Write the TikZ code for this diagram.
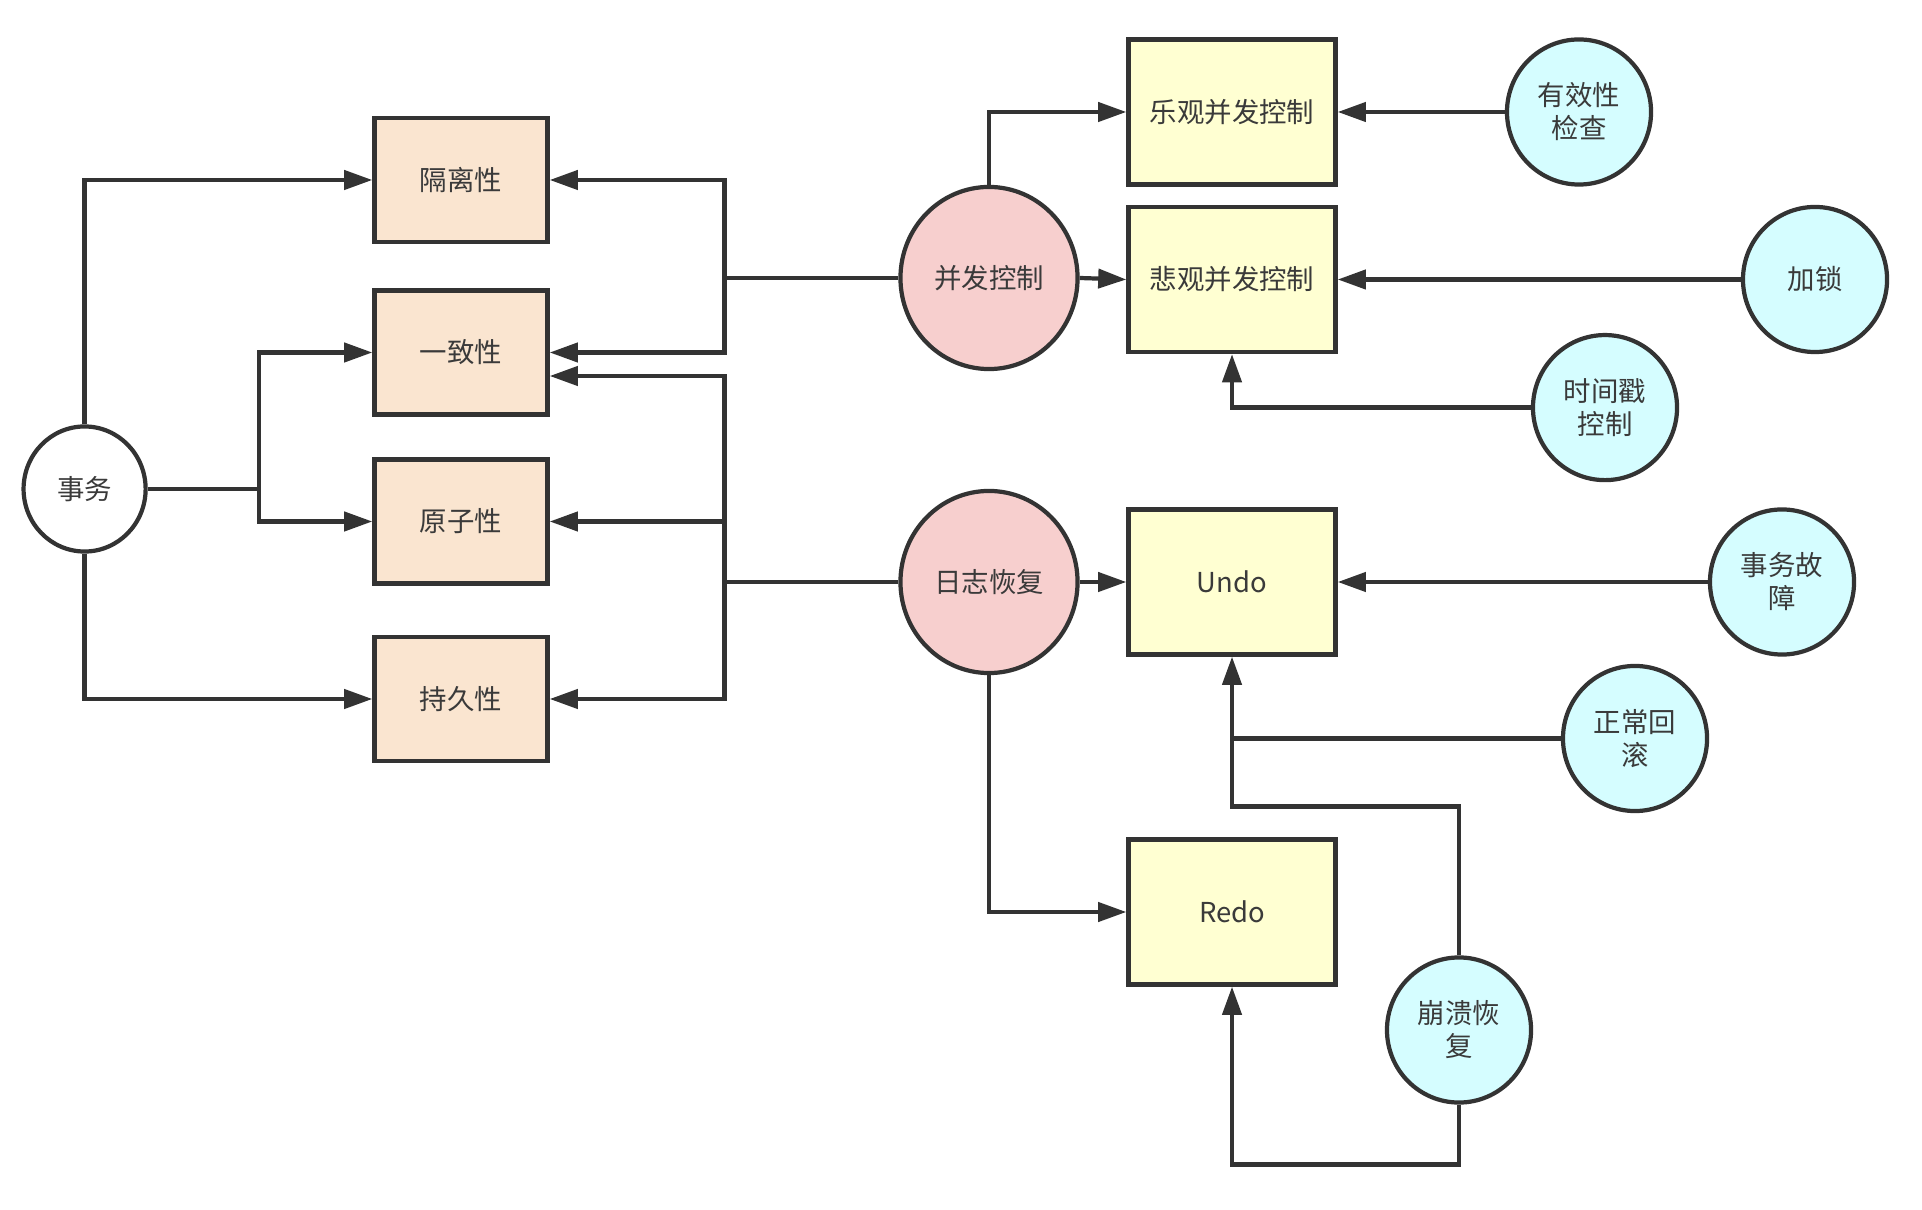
\documentclass[tikz,border=0pt]{standalone}
\usepackage{fontspec}
\setmainfont{Noto Sans CJK SC}
\usetikzlibrary{shapes.geometric,arrows.meta}
\definecolor{peach}{HTML}{FAE5D0}
\definecolor{paleyellow}{HTML}{FFFFD2}
\definecolor{palepink}{HTML}{F7CFCE}
\definecolor{palecyan}{HTML}{D5FDFF}
\definecolor{linegray}{HTML}{333333}
\definecolor{txtgray}{HTML}{3A3A3A}
\begin{document}
\begin{tikzpicture}[x=0.01cm,y=-0.01cm]
    \tikzstyle{every node}+=[inner sep=0pt, font=\fontsize{7.8}{9.4}\selectfont, text=txtgray, align=center]
    \tikzstyle{prop}=[draw=linegray, line width=1.2pt, fill=peach, minimum width=1.73cm, minimum height=1.24cm]
    \tikzstyle{algo}=[draw=linegray, line width=1.2pt, fill=paleyellow, minimum width=2.07cm, minimum height=1.45cm]
    \tikzstyle{topic}=[ellipse, draw=linegray, line width=1.2pt, fill=palepink, minimum width=1.77cm, minimum height=1.82cm]
    \tikzstyle{cause}=[ellipse, draw=linegray, line width=1.2pt, fill=palecyan, minimum width=1.44cm, minimum height=1.45cm]
    \tikzstyle{wire}=[draw=linegray, line width=1.2pt]
    \tikzstyle{arr}=[wire, -{Triangle[length=8pt,width=5.4pt]}]
    \useasboundingbox (0,0) rectangle (1922,1210);
    \node [ellipse, draw=linegray, line width=1.2pt, fill=white, minimum width=1.22cm, minimum height=1.25cm] (tx) at (84.6,489) {事务};
    \node [prop] (iso) at (461,180) {隔离性};
    \node [prop] (con) at (461,352.5) {一致性};
    \node [prop] (ato) at (461,521.5) {原子性};
    \node [prop] (dur) at (461,699) {持久性};
    \node [topic] (cc) at (989,278) {并发控制};
    \node [topic] (lr) at (989,582) {日志恢复};
    \node [algo] (opt) at (1232,112) {乐观并发控制};
    \node [algo] (pes) at (1232,279.5) {悲观并发控制};
    \node [algo] (undo) at (1232,582) {Undo};
    \node [algo] (redo) at (1232,912) {Redo};
    \node [cause] (val) at (1579,112) {有效性\\检查};
    \node [cause] (lock) at (1815,279.5) {加锁};
    \node [cause] (ts) at (1605,407.6) {时间戳\\控制};
    \node [cause] (fail) at (1782,582) {事务故\\障};
    \node [cause] (rb) at (1635,738.5) {正常回\\滚};
    \node [cause] (crash) at (1459,1030) {崩溃恢\\复};
    \coordinate (j1) at (259,489);
    \coordinate (j2) at (724.5,278);
    \coordinate (j3) at (724.5,582);
    \coordinate (j4) at (1232,806.6);
    \coordinate (j5) at (1232,1164.5);
    % transaction to its properties
    \draw [arr] (tx.north) |- (iso.west);
    \draw [arr] (tx.south) |- (dur.west);
    \draw [wire] (tx.east) -- (j1);
    \draw [arr] (j1) |- (con.west);
    \draw [arr] (j1) |- (ato.west);
    % concurrency control
    \draw [wire] (cc.west) -- (j2);
    \draw [arr] (j2) |- (iso.east);
    \draw [arr] (j2) |- (con.east);
    \draw [arr] (cc.north) |- (opt.west);
    \draw [arr] (cc.east) -- (pes.west);
    \draw [arr] (val.west) -- (opt.east);
    \draw [arr] (lock.west) -- (pes.east);
    \draw [arr] (ts.west) -| (pes.south);
    % log recovery
    \draw [wire] (lr.west) -- (j3);
    \draw [arr] (j3) |- ([yshift=-0.235cm]con.east);
    \draw [arr] (j3) |- (ato.east);
    \draw [arr] (j3) |- (dur.east);
    \draw [arr] (lr.east) -- (undo.west);
    \draw [arr] (lr.south) |- (redo.west);
    \draw [arr] (fail.west) -- (undo.east);
    \draw [wire] (rb.west) -- (rb.west -| undo.south);
    \draw [arr] (crash.north) |- (j4) -- (undo.south);
    \draw [arr] (crash.south) |- (j5) -- (redo.south);
\end{tikzpicture}
\end{document}
